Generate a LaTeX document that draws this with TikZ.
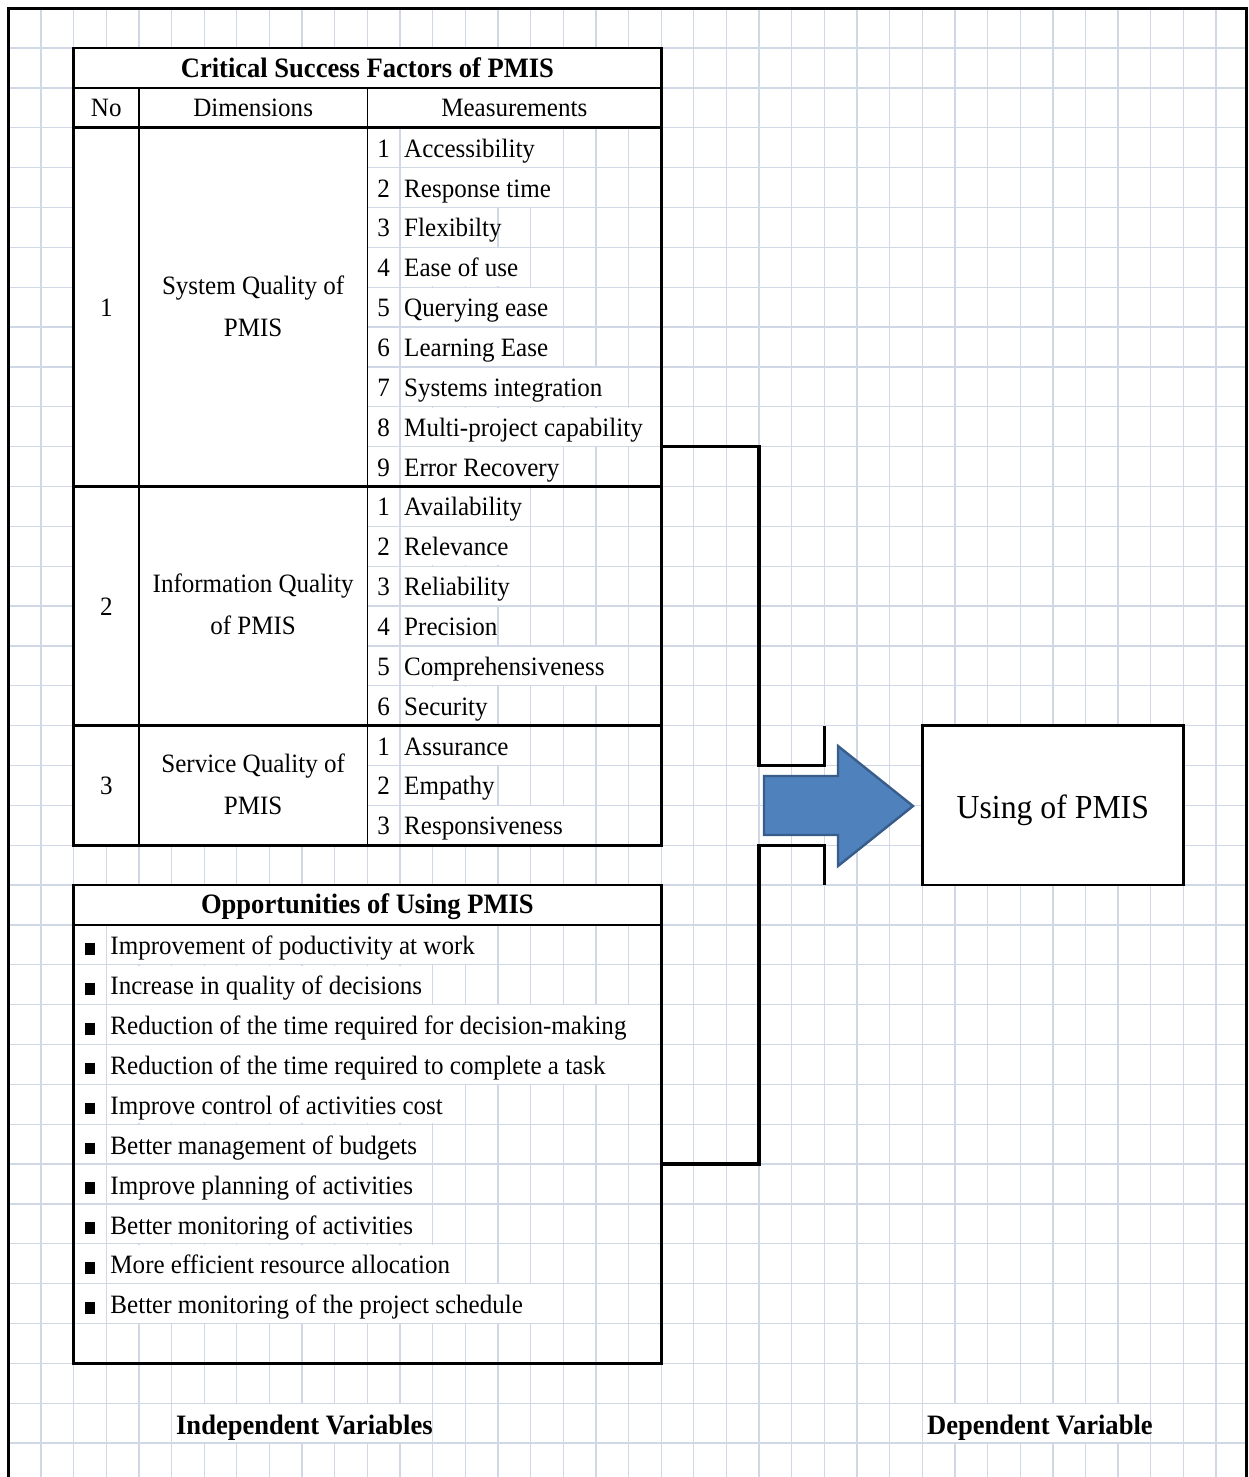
\documentclass[tikz,border=0pt]{standalone}
\usepackage{fontspec}
\setmainfont{Liberation Serif}[FakeStretch=0.945]
\definecolor{gridc}{RGB}{208,215,229}
\definecolor{arrfill}{RGB}{79,129,189}
\definecolor{arrline}{RGB}{56,93,138}
\newcommand\txtreg{\fontsize{26.5}{41.5}\selectfont}
\newcommand\txtbold{\fontsize{28.1}{35}\selectfont\bfseries}
\newcommand\txtbig{\fontsize{33.6}{40}\selectfont}
\newcommand\cellcover[4]{\fill[white] ({gx(#1)+0.8},{gy(#2)+0.8}) rectangle ({gx(#3)-0.8},{gy(#4)-0.8});}
\begin{document}
\begin{tikzpicture}[x=1pt,y=-1pt,
  declare function={gx(\p)=8.36+32.64*\p; gy(\q)=8.14+39.86*\q;},
  gridln/.style={draw=gridc, line width=1.3pt},
  frameln/.style={line width=3pt, line join=miter},
  tblouter/.style={line width=2.8pt, line join=miter},
  tblsep/.style={line width=2.6pt},
  tblvert/.style={line width=1.8pt},
  conn/.style={line width=3.3pt, line join=miter},
  cell/.style={inner sep=0pt, anchor=base west, font=\txtreg},
  numtxt/.style={inner sep=0pt, anchor=base, font=\txtreg},
  hdr/.style={inner sep=0pt, anchor=base, font=\txtreg},
  ttl/.style={inner sep=0pt, anchor=base, font=\txtbold},
  dimtxt/.style={inner sep=0pt, align=center, font=\txtreg},
  bulletsq/.style={fill=black, draw=none, inner sep=0pt, minimum width=10pt, minimum height=11.5pt, anchor=south},
  depbox/.style={draw, fill=white, line width=2.8pt, inner sep=0pt, minimum width=261.12pt, minimum height=159.44pt},
  blockarrow/.style={fill=arrfill, draw=arrline, line width=2.4pt, line join=miter}
]
\useasboundingbox (0,0) rectangle (1249,1477);
% spreadsheet grid
\foreach \p in {1,...,37} \draw[gridln] ({gx(\p)},{gy(0)}) -- ({gx(\p)},1477);
\foreach \q in {1,...,36} \draw[gridln] ({gx(0)},{gy(\q)}) -- (1246,{gy(\q)});
% merged cells (grid hidden)
\cellcover{2}{1}{20}{2}
\cellcover{2}{2}{4}{3}
\cellcover{4}{2}{11}{3}
\cellcover{11}{2}{20}{3}
\cellcover{2}{3}{4}{21}
\cellcover{4}{3}{11}{21}
\cellcover{2}{22}{20}{23}
\cellcover{5}{35}{13}{36}
\cellcover{28}{35}{35}{36}
% frame
\draw[frameln] ({gx(0)},1477) -- ({gx(0)},{gy(0)}) -- (1246,{gy(0)}) -- (1246,1477);
% title and header
\node[ttl] (csftitle) at ({gx(11)},78) {Critical Success Factors of PMIS};
\node[hdr] (hno) at ({gx(3)},117) {No};
\node[hdr] (hdim) at ({gx(7.5)},117) {Dimensions};
\node[hdr] (hmeas) at ({gx(15.5)},117) {Measurements};
% dimensions
\node[numtxt] (no1) at ({gx(3)},316) {1};
\node[numtxt] (no2) at ({gx(3)},615) {2};
\node[numtxt] (no3) at ({gx(3)},794) {3};
\node[dimtxt] (dim1) at ({gx(7.5)},306.5) {System Quality of\\PMIS};
\node[dimtxt] (dim2) at ({gx(7.5)},604.5) {Information Quality\\of PMIS};
\node[dimtxt] (dim3) at ({gx(7.5)},784.5) {Service Quality of\\PMIS};
% measurements: system quality
\foreach \mtext/\mend [count=\i] in {Accessibility/17, Response time/17, Flexibilty/15, Ease of use/16, Querying ease/17, Learning Ease/17, Systems integration/19, Multi-project capability/20, Error Recovery/17}{
  \pgfmathtruncatemacro\jt{2+\i}
  \pgfmathtruncatemacro\jb{3+\i}
  \cellcover{12}{\jt}{\mend}{\jb}
  \node[numtxt] (sn\i) at ({gx(11.5)},{gy(\jb)-10.4}) {\i};
  \node[cell] (st\i) at ({gx(12)+4},{gy(\jb)-10.4}) {\mtext};
}
% information quality
\foreach \mtext/\mend [count=\i] in {Availability/16, Relevance/16, Reliability/16, Precision/15, Comprehensiveness/19, Security/15}{
  \pgfmathtruncatemacro\jt{11+\i}
  \pgfmathtruncatemacro\jb{12+\i}
  \cellcover{12}{\jt}{\mend}{\jb}
  \node[numtxt] (in\i) at ({gx(11.5)},{gy(\jb)-10.4}) {\i};
  \node[cell] (it\i) at ({gx(12)+4},{gy(\jb)-10.4}) {\mtext};
}
% service quality
\foreach \mtext/\mend [count=\i] in {Assurance/16, Empathy/15, Responsiveness/18}{
  \pgfmathtruncatemacro\jt{17+\i}
  \pgfmathtruncatemacro\jb{18+\i}
  \cellcover{12}{\jt}{\mend}{\jb}
  \node[numtxt] (vn\i) at ({gx(11.5)},{gy(\jb)-10.4}) {\i};
  \node[cell] (vt\i) at ({gx(12)+4},{gy(\jb)-10.4}) {\mtext};
}
% opportunities
\node[ttl] (opptitle) at ({gx(11)},{gy(23)-11}) {Opportunities of Using PMIS};
\foreach \mtext/\mend [count=\i] in {Improvement of poductivity at work/15, Increase in quality of decisions/13, Reduction of the time required for decision-making/20, Reduction of the time required to complete a task/20, Improve control of activities cost/14, Better management of budgets/13, Improve planning of activities/13, Better monitoring of activities/13, More efficient resource allocation/14, Better monitoring of the project schedule/17}{
  \pgfmathtruncatemacro\jt{22+\i}
  \pgfmathtruncatemacro\jb{23+\i}
  \cellcover{3}{\jt}{\mend}{\jb}
  \node[bulletsq] (ob\i) at ({gx(2.5)},{gy(\jb)-9.8}) {};
  \node[cell] (ot\i) at ({gx(3)+4},{gy(\jb)-9.8}) {\mtext};
}
% table borders
\draw[tblouter] ({gx(2)},{gy(1)}) rectangle ({gx(20)},{gy(21)});
\foreach \q in {2,3,12,18} \draw[tblsep] ({gx(2)},{gy(\q)}) -- ({gx(20)},{gy(\q)});
\foreach \p in {4,11} \draw[tblvert] ({gx(\p)},{gy(2)}) -- ({gx(\p)},{gy(21)});
\draw[tblouter] ({gx(2)},{gy(22)}) rectangle ({gx(20)},{gy(34)});
\draw[tblsep] ({gx(2)},{gy(23)}) -- ({gx(20)},{gy(23)});
% dependent variable box
\node[depbox] (dep) at ({gx(32)},{(gy(18)+gy(22))/2}) {};
\node[inner sep=0pt, anchor=base, font=\txtbig] (deptext) at ({gx(32)},818) {Using of PMIS};
% connectors
\coordinate (csfout) at ({gx(20)},{gy(11)});
\coordinate (oppout) at ({gx(20)},{gy(29)});
\coordinate (topend) at ({gx(25)},{gy(18)});
\coordinate (botend) at ({gx(25)},{gy(22)});
\draw[conn] (csfout) -| ({gx(23)},{gy(19)}) -| (topend);
\draw[conn] (oppout) -| ({gx(23)},{gy(21)}) -| (botend);
% block arrow
\draw[blockarrow] (764,776) -- (838,776) -- (838,746) -- (913,806) -- (838,866) -- (838,835) -- (764,835) -- cycle;
% bottom labels
\node[inner sep=0pt, anchor=base west, font=\txtbold] (indep) at ({gx(5)+4.4},1434) {Independent Variables};
\node[inner sep=0pt, anchor=base west, font=\txtbold] (depvar) at ({gx(28)+4.7},1434) {Dependent Variable};
\end{tikzpicture}
\end{document}
